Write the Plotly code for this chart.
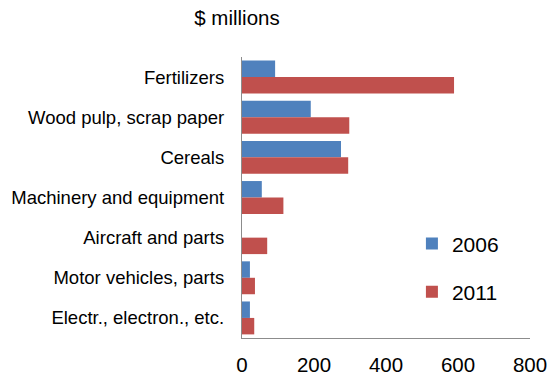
import plotly.graph_objects as go

# Export categories, top to bottom
categories = [
    "Fertilizers",
    "Wood pulp, scrap paper",
    "Cereals",
    "Machinery and equipment",
    "Aircraft and parts",
    "Motor vehicles, parts",
    "Electr., electron., etc.",
]
values_2006 = [92, 191, 275, 55, 0, 22, 22]
values_2011 = [589, 298, 295, 115, 70, 36, 34]
x_ticks = [0, 200, 400, 600, 800]

FONT = "Liberation Sans, Arial, sans-serif"
BLUE = "#4F81BD"
RED = "#C0504D"
AXIS = "#8C8C8C"

fig = go.Figure()
fig.add_trace(go.Bar(
    y=categories, x=values_2006, name="2006", orientation="h",
    marker=dict(color=BLUE, line=dict(width=0)),
    legendgroup="a",
))
fig.add_trace(go.Bar(
    y=categories, x=values_2011, name="2011", orientation="h",
    marker=dict(color=RED, line=dict(width=0)),
    legendgroup="b",
))

fig.update_layout(
    width=556, height=377,
    margin=dict(l=242, r=26, t=57, b=39),
    paper_bgcolor="white", plot_bgcolor="white",
    barmode="group", bargap=0.18, bargroupgap=0,
    font=dict(family=FONT, color="#000000", size=18),
    title=dict(
        text="$ millions", xref="container", yref="container",
        x=237 / 556, xanchor="center", y=1 - 18 / 377, yanchor="middle",
        font=dict(family=FONT, size=20.5, color="#000000"),
    ),
    legend=dict(
        x=0.59, y=0.408, xanchor="left", yanchor="top",
        font=dict(family=FONT, size=21, color="#000000"),
        bgcolor="rgba(0,0,0,0)", traceorder="grouped", tracegroupgap=18,
    ),
    showlegend=True,
)

fig.update_xaxes(
    range=[0, 800], tickvals=x_ticks, ticktext=[str(v) for v in x_ticks],
    showgrid=False, zeroline=False, automargin=False,
    showline=True, linecolor=AXIS, linewidth=1.3,
    ticks="outside", ticklen=8, tickcolor="rgba(0,0,0,0)",
    tickfont=dict(family=FONT, size=20.5, color="#000000"),
)
fig.update_yaxes(
    autorange="reversed", showgrid=False, zeroline=False, automargin=False,
    showline=True, linecolor=AXIS, linewidth=1.3,
    ticks="", ticklabelstandoff=13,
    tickfont=dict(family=FONT, size=18.5, color="#000000"),
)

fig.write_html("out.html")
